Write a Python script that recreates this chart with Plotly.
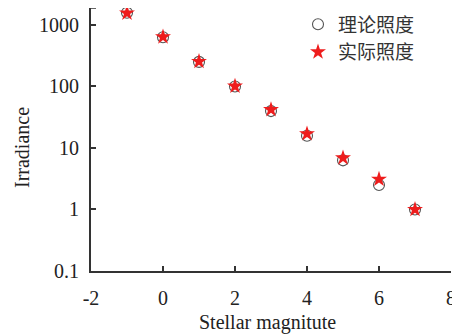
import plotly.graph_objects as go

magnitude = [-1, 0, 1, 2, 3, 4, 5, 6, 7]
theory_irr = [1580, 631, 251, 100, 39.8, 15.8, 6.3, 2.5, 1.0]
actual_irr = [1560, 640, 255, 101, 42, 17, 6.9, 3.1, 1.0]
legend_names = ["理论照度", "实际照度"]
x_ticks = [-2, 0, 2, 4, 6, 8]
x_tick_text = ["-2", "0", "2", "4", "6", "8"]
y_ticks = [0.1, 1, 10, 100, 1000]
y_tick_text = ["0.1", "1", "10", "100", "1000"]

FONT = "Liberation Serif"
AX = "#333333"
TXT = "#222222"

fig = go.Figure()
fig.add_trace(go.Scatter(
    x=magnitude, y=theory_irr, mode="markers", name=legend_names[0],
    marker=dict(symbol="circle-open", size=11, color="#555555", line=dict(width=1.1)),
))
fig.add_trace(go.Scatter(
    x=magnitude, y=actual_irr, mode="markers", name=legend_names[1],
    marker=dict(symbol="star", size=12, color="#ee1c1c", line=dict(width=0)),
))

tickfont = dict(family=FONT, size=20, color=TXT, weight="normal")

# page body has an 8px margin, so the figure is 8px smaller and shifted
fig.update_layout(
    template="none",
    width=452, height=326,
    margin=dict(l=83, r=9, t=0, b=63, autoexpand=False),
    paper_bgcolor="white", plot_bgcolor="white",
    font=dict(family=FONT, size=20, color=TXT),
    showlegend=True,
    legend=dict(x=0.575, y=1.01, xanchor="left", yanchor="top",
                bgcolor="rgba(0,0,0,0)", borderwidth=0,
                font=dict(family="Noto Sans CJK SC", size=19, color="#333333"),
                tracegroupgap=0),
    xaxis=dict(range=[-2, 8], tickmode="array", tickvals=x_ticks, ticktext=x_tick_text,
               ticks="inside", ticklen=5, tickwidth=1.5, tickcolor=AX,
               showline=True, linecolor=AX, linewidth=2, showgrid=False,
               zeroline=False, ticklabelstandoff=8, automargin=False, tickfont=tickfont),
    yaxis=dict(type="log", range=[-1, 3.276], tickmode="array",
               tickvals=y_ticks, ticktext=y_tick_text,
               ticks="inside", ticklen=5, tickwidth=1.5, tickcolor=AX,
               showline=True, linecolor=AX, linewidth=2, showgrid=False,
               zeroline=False, ticklabelstandoff=6, automargin=False, tickfont=tickfont),
    annotations=[
        dict(text="Stellar magnitute", xref="paper", yref="paper",
             x=0.49, y=-0.195, xanchor="center", yanchor="middle",
             showarrow=False, font=dict(family=FONT, size=20, color=TXT)),
        dict(text="Irradiance", xref="paper", yref="paper",
             x=-0.19, y=0.47, xanchor="center", yanchor="middle",
             textangle=-90, showarrow=False, font=dict(family=FONT, size=20, color=TXT)),
    ],
    shapes=[dict(type="line", xref="paper", yref="paper",
                 x0=0, x1=0.014, y0=1, y1=1,
                 line=dict(color=AX, width=1.5))],
)

fig.write_html("out.html")
